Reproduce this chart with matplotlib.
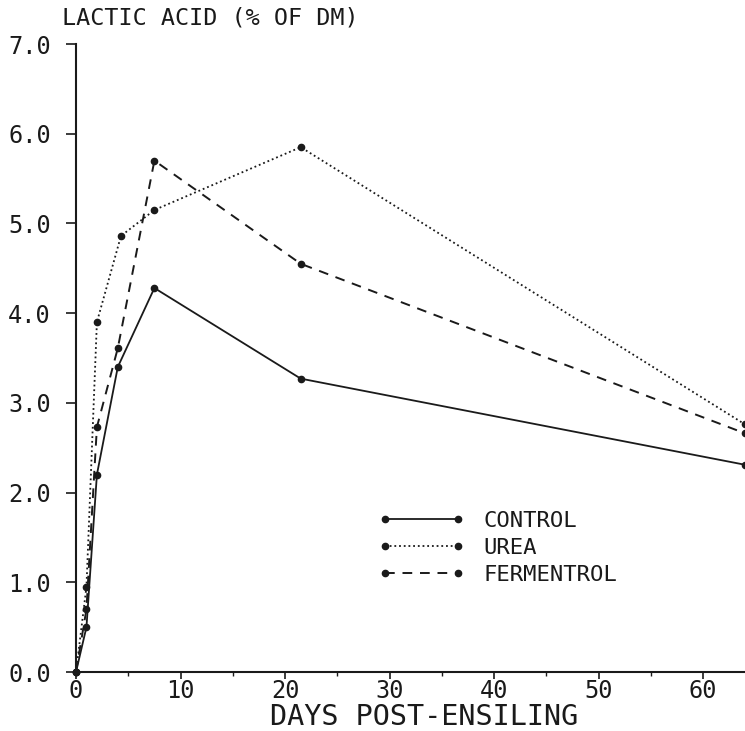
import matplotlib
matplotlib.use("Agg")
import matplotlib.pyplot as plt
from matplotlib.ticker import MultipleLocator

plt.rcParams['font.family'] = ['DejaVu Sans Mono', 'DejaVu Sans']

days_control = [0, 1, 2, 4, 7.5, 21.5, 64]
control = [0.0, 0.5, 2.2, 3.4, 4.28, 3.27, 2.31]

days_urea = [0, 1, 2, 4.3, 7.5, 21.5, 64]
urea = [0.0, 0.95, 3.9, 4.86, 5.15, 5.85, 2.76]

days_ferm = [0, 1, 2, 4, 7.5, 21.5, 64]
fermentrol = [0.0, 0.7, 2.73, 3.61, 5.7, 4.55, 2.66]

x_ticks = [0, 10, 20, 30, 40, 50, 60]
y_ticks = [0, 1, 2, 3, 4, 5, 6, 7]

ink = '#1a1a1a'
fig = plt.figure(figsize=(7.45, 7.31), dpi=100)
ax = fig.add_axes([76/745, 1-672/731, 1-76/745, (672-44)/731])

kw = dict(color=ink, marker='o', markersize=4.5, clip_on=False)
ax.plot(days_control, control, linestyle='-', linewidth=1.3, label='CONTROL', **kw)
ax.plot(days_urea, urea, linestyle=(0, (1, 1.6)), linewidth=1.3, label='UREA', **kw)
ax.plot(days_ferm, fermentrol, linestyle=(0, (5, 4)), linewidth=1.4, label='FERMENTROL', **kw)

ax.set_xlim(0, 64)
ax.set_ylim(0, 7.0)
ax.set_xticks(x_ticks)
ax.set_xticklabels([str(t) for t in x_ticks])
ax.xaxis.set_minor_locator(MultipleLocator(5))
ax.set_yticks(y_ticks)
ax.set_yticklabels([f"{t:.1f}" for t in y_ticks])

for s in ['top', 'right']:
    ax.spines[s].set_visible(False)
for s in ['left', 'bottom']:
    ax.spines[s].set_color(ink)
    ax.spines[s].set_linewidth(1.5)

ax.tick_params(axis='y', direction='out', length=7, width=1.2, colors=ink,
               labelsize=17, pad=11)
ax.tick_params(axis='x', which='major', direction='out', length=5, width=1.2,
               colors=ink, labelsize=17, pad=0)
ax.tick_params(axis='x', which='minor', direction='out', length=3, width=1.0, colors=ink)

fig.text(62/745, 1-18/731, 'LACTIC ACID (% OF DM)', fontsize=16.8, color=ink,
         ha='left', va='center')
fig.text(424/745, 1-717/731, 'DAYS POST-ENSILING', fontsize=20.5, color=ink,
         ha='center', va='center')

leg = ax.legend(loc='upper left', bbox_to_anchor=(358/745, 1-491/731),
                bbox_transform=fig.transFigure, frameon=False, fontsize=16,
                handlelength=3.9, numpoints=2, labelspacing=0.31,
                handletextpad=0.85)
for t in leg.get_texts():
    t.set_color(ink)

fig.savefig('out.png', dpi=100, facecolor='white')
